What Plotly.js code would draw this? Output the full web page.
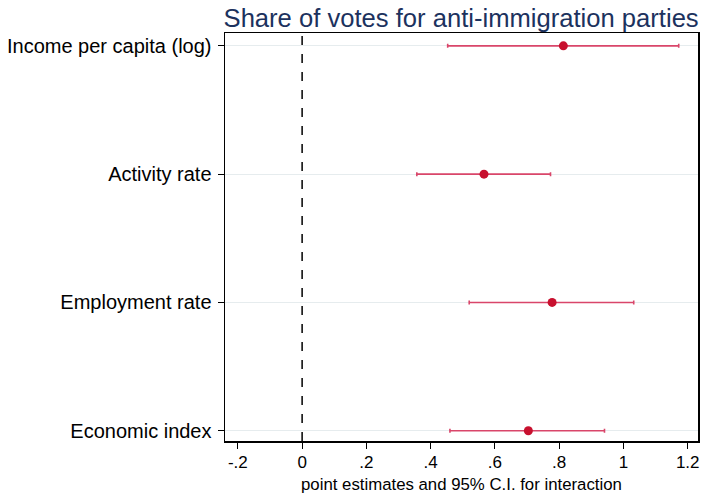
<!DOCTYPE html>
<html>
<head>
<meta charset="utf-8">
<script src="https://cdn.plot.ly/plotly-3.0.1.min.js"></script>
<style>html,body{margin:0;padding:0;background:#fff;}#chart{width:704px;height:494px;}</style>
</head>
<body>
<div id="chart"></div>
<script>
// Coefficient plot: point estimates with 95% confidence intervals
const categories = ["Income per capita (log)", "Activity rate", "Employment rate", "Economic index"];
const estimates  = [0.813, 0.566, 0.778, 0.704];
const ciLower    = [0.453, 0.357, 0.520, 0.460];
const ciUpper    = [1.172, 0.773, 1.032, 0.941];
const xTickVals  = [-0.2, 0, 0.2, 0.4, 0.6, 0.8, 1, 1.2];
const xTickText  = ["-.2", "0", ".2", ".4", ".6", ".8", "1", "1.2"];

const plus  = estimates.map((v, i) => ciUpper[i] - v);
const minus = estimates.map((v, i) => v - ciLower[i]);

const trace = {
  type: "scatter",
  mode: "markers",
  x: estimates,
  y: categories,
  marker: {color: "#c8102e", size: 9},
  error_x: {
    type: "data", symmetric: false, array: plus, arrayminus: minus,
    color: "#d9466a", thickness: 1.6, width: 2
  },
  hoverinfo: "x+y",
  showlegend: false
};

const layout = {
  width: 704, height: 494,
  margin: {l: 225, r: 6, t: 33, b: 53},
  paper_bgcolor: "#fff", plot_bgcolor: "#fff",
  font: {family: "Liberation Sans, Arial, sans-serif", color: "#000"},
  title: {
    text: "Share of votes for anti-immigration parties",
    font: {size: 25.6, color: "#1c325e"},
    x: 0.655, xanchor: "center", y: 0.963, yanchor: "middle"
  },
  xaxis: {
    range: [-0.24, 1.232],
    tickvals: xTickVals, ticktext: xTickText,
    ticks: "outside", ticklen: 6, tickcolor: "#000", tickwidth: 1,
    tickfont: {size: 17},
    ticklabelstandoff: -1,
    showgrid: false, zeroline: false,
    showline: true, linecolor: "#000", linewidth: 1.5, mirror: true
  },
  yaxis: {
    type: "category",
    categoryorder: "array", categoryarray: categories,
    range: [3.08, -0.1],
    ticks: "outside", ticklen: 6, tickcolor: "#000", tickwidth: 1,
    tickfont: {size: 20},
    showgrid: true, gridcolor: "#e6ecee", gridwidth: 1,
    zeroline: false,
    showline: true, linecolor: "#000", linewidth: 1.5, mirror: true,
    ticklabelstandoff: 2
  },
  annotations: [{
    text: "point estimates and 95% C.I. for interaction",
    xref: "x domain", yref: "paper", x: 0.5, y: 0,
    xanchor: "center", yanchor: "top", yshift: -33, borderpad: 0,
    showarrow: false, font: {size: 16.8, color: "#000"}
  }],
  shapes: [{
    type: "line", xref: "x", yref: "paper", x0: 0, x1: 0, y0: 0, y1: 1,
    line: {color: "#000", width: 1.5, dash: "dash"}, layer: "below"
  }]
};

Plotly.newPlot("chart", [trace], layout, {displayModeBar: false, staticPlot: true});
</script>
</body>
</html>
